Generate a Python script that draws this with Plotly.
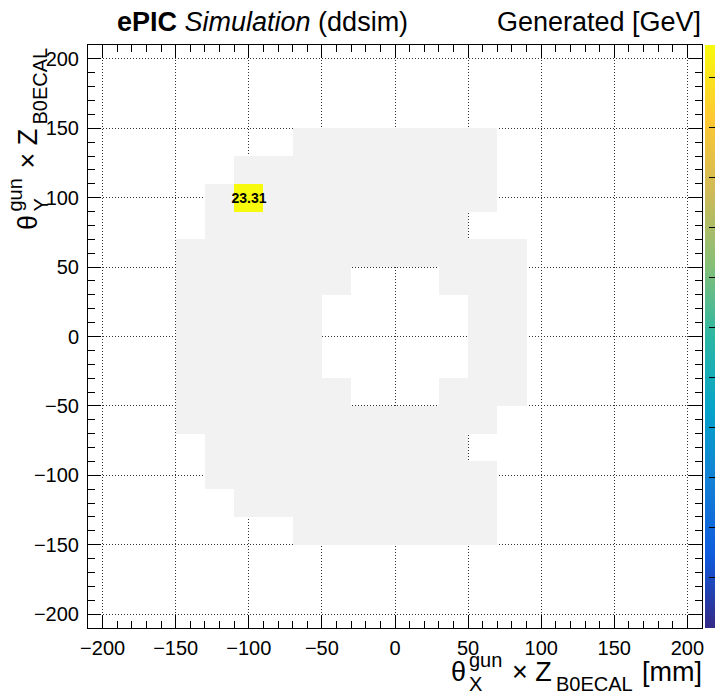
import plotly.graph_objects as go

# ---------------- data ----------------
bin_centers = [-200, -180, -160, -140, -120, -100, -80, -60, -40, -20, 0,
               20, 40, 60, 80, 100, 120, 140, 160, 180, 200]

# acceptance (light grey) region: per row of bin centre y, x range of filled bins
acc_rows_y = [140, 120, 100, 80, 60, 40, 20, 0, -20, -40, -60, -80, -100, -120, -140]
acc_xmin = [-60, -100, -120, -120, -140, -140, -140, -140, -140, -140, -140, -120, -120, -100, -60]
acc_xmax = [60, 60, 60, 40, 80, 80, 80, 80, 80, 80, 60, 40, 60, 60, 60]
# central hole (empty bins)
hole_rows_y = [40, 20, 0, -20, -40]
hole_xmin = [-20, -40, -40, -40, -20]
hole_xmax = [20, 40, 40, 40, 20]

# generated energy [GeV]
energy_x = [-100]
energy_y = [100]
energy_val = [23.31]

tick_vals = [-200, -150, -100, -50, 0, 50, 100, 150, 200]
tick_text = ["\u2212200", "\u2212150", "\u2212100", "\u221250", "0", "50", "100", "150", "200"]
cbar_ticks = [0, 2, 4, 6, 8, 10, 12, 14, 16, 18, 20, 22]

# ---------------- build matrices ----------------
nx = len(bin_centers)
grey = [[None] * nx for _ in bin_centers]
for yv, lo, hi in zip(acc_rows_y, acc_xmin, acc_xmax):
    j = bin_centers.index(yv)
    for i, xv in enumerate(bin_centers):
        if lo <= xv <= hi:
            grey[j][i] = 1
for yv, lo, hi in zip(hole_rows_y, hole_xmin, hole_xmax):
    j = bin_centers.index(yv)
    for i, xv in enumerate(bin_centers):
        if lo <= xv <= hi:
            grey[j][i] = None

ez = [[None] * nx for _ in bin_centers]
et = [[""] * nx for _ in bin_centers]
for xv, yv, v in zip(energy_x, energy_y, energy_val):
    i = bin_centers.index(xv)
    j = bin_centers.index(yv)
    ez[j][i] = v
    et[j][i] = f"{v:.2f}"

stops = [0, .125, .25, .375, .5, .625, .75, .875, 1]
rr = [0.2082, 0.0592, 0.0780, 0.0232, 0.1802, 0.5301, 0.8186, 0.9956, 0.9764]
gg = [0.1664, 0.3599, 0.5041, 0.6419, 0.7178, 0.7492, 0.7328, 0.7862, 0.9832]
bb = [0.5293, 0.8684, 0.8385, 0.7914, 0.6425, 0.4662, 0.3499, 0.1968, 0.0539]
kbird = [[s, f"rgb({int(r*255)},{int(g*255)},{int(b*255)})"] for s, r, g, b in zip(stops, rr, gg, bb)]

FONT = "Liberation Sans, Arial, Helvetica, sans-serif"

fig = go.Figure()
fig.add_trace(go.Heatmap(
    x=bin_centers, y=bin_centers, z=grey,
    colorscale=[[0, "#f2f2f2"], [1, "#f2f2f2"]],
    showscale=False, hoverinfo="skip", xgap=0, ygap=0,
))
fig.add_trace(go.Heatmap(
    x=bin_centers, y=bin_centers, z=ez, text=et,
    texttemplate="%{text}",
    textfont=dict(family=FONT, size=14, color="black", weight="bold"),
    colorscale=kbird, zmin=0, zmax=max(energy_val),
    colorbar=dict(x=1.005, xanchor="left", xpad=0, ypad=0, len=1, lenmode="fraction",
                  y=0.5, yanchor="middle", thickness=12, outlinewidth=0,
                  ticks="inside", ticklen=8, tickcolor="black", tickwidth=1,
                  tickvals=cbar_ticks, showticklabels=False),
))

L, R, T, B = 88, 13, 45, 67
W, H = 715, 695
PW, PH = W - L - R, H - T - B


def px(p):
    return (p - L) / PW


def py(p):
    return (H - B - p) / PH


axis_common = dict(
    range=[-210, 210], tickvals=tick_vals, ticktext=tick_text,
    ticks="inside", ticklen=13, tickwidth=1, tickcolor="black",
    minor=dict(ticks="inside", ticklen=7, dtick=10, tick0=0, tickcolor="black", showgrid=False),
    showline=True, linecolor="black", linewidth=1, mirror="allticks",
    showgrid=True, gridcolor="#333", gridwidth=1, griddash="1px,2px",
    zeroline=False, tickfont=dict(family=FONT, size=20, color="black"),
    fixedrange=True,
)
fig.update_xaxes(**axis_common, ticklabelstandoff=2)
fig.update_yaxes(**axis_common, ticklabelstandoff=4)

ann = []


def add(text, xp, yp, size, xanchor="left", yanchor="middle", angle=0):
    ann.append(dict(text=text, x=px(xp), y=py(yp), xref="paper", yref="paper",
                    xanchor=xanchor, yanchor=yanchor, showarrow=False, borderpad=0,
                    textangle=angle, font=dict(family=FONT, size=size, color="black")))


S, s = 27, 20
# header
hb = 31
add("<b>ePIC</b> <i>Simulation</i> (ddsim)", 116, hb - 0.35 * S, S)
add("Generated [GeV]", 702, hb - 0.35 * S, S, xanchor="right")

# x-axis title
xb = 681
add("\u03b8", 450, xb - 0.35 * S, S)
add("gun", 468, 667 - 0.35 * s, s)
add("X", 468, 691 - 0.35 * s, s)
add("\u00d7 Z", 511, xb - 0.35 * S, S)
add("B0ECAL", 555, 691 - 0.35 * s, s)
add("[mm]", 703, xb - 0.35 * S, S, xanchor="right")

# y-axis title (rotated)
yb = 37
add("\u03b8", yb - 0.35 * S, 231, S, xanchor="center", yanchor="bottom", angle=-90)
add("gun", 21 - 0.35 * s, 213, s, xanchor="center", yanchor="bottom", angle=-90)
add("Y", 47 - 0.35 * s, 213, s, xanchor="center", yanchor="bottom", angle=-90)
add("\u00d7 Z", yb - 0.35 * S, 170, S, xanchor="center", yanchor="bottom", angle=-90)
add("B0ECAL", 47 - 0.35 * s, 126, s, xanchor="center", yanchor="bottom", angle=-90)

fig.update_layout(
    width=W, height=H,
    margin=dict(l=L, r=R, t=T, b=B, pad=0, autoexpand=False),
    paper_bgcolor="white", plot_bgcolor="white",
    annotations=ann, showlegend=False,
    font=dict(family=FONT, color="black"),
)

fig.write_html("out.html")
